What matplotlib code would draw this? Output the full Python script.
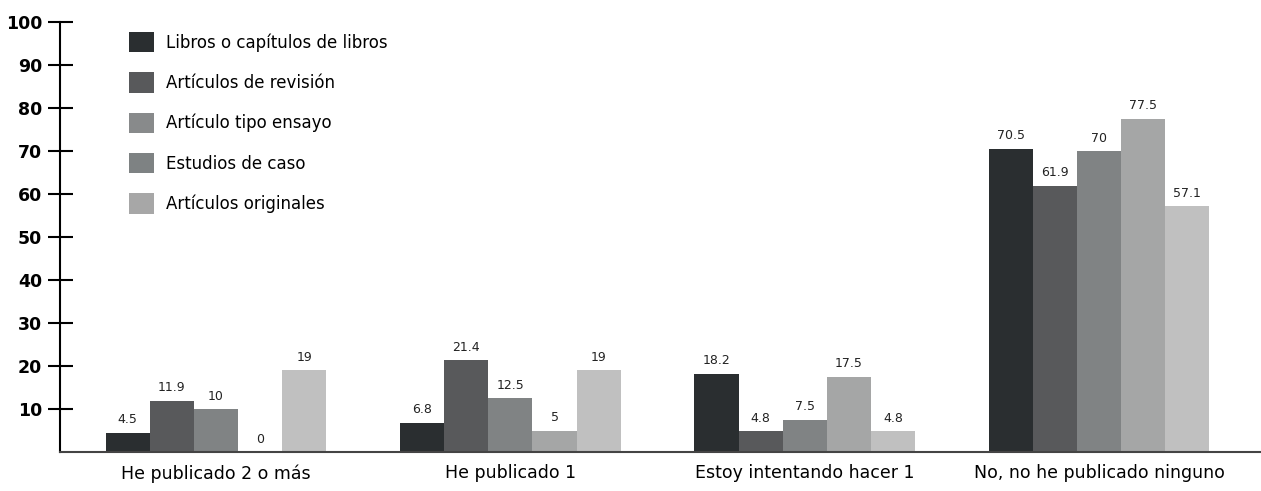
import matplotlib
matplotlib.use("Agg")
from matplotlib import pyplot as plt
from matplotlib.patches import Patch
import numpy as np

categories = ["He publicado 2 o más", "He publicado 1",
              "Estoy intentando hacer 1", "No, no he publicado ninguno"]
series = ["Libros o capítulos de libros", "Artículos de revisión",
          "Artículo tipo ensayo", "Estudios de caso", "Artículos originales"]
libros = [4.5, 6.8, 18.2, 70.5]
revision = [11.9, 21.4, 4.8, 61.9]
ensayo = [10, 12.5, 7.5, 70]
caso = [0, 5, 17.5, 77.5]
originales = [19, 19, 4.8, 57.1]
labels = [["4.5", "6.8", "18.2", "70.5"],
          ["11.9", "21.4", "4.8", "61.9"],
          ["10", "12.5", "7.5", "70"],
          ["0", "5", "17.5", "77.5"],
          ["19", "19", "4.8", "57.1"]]

bar_colors = ["#2a2e30", "#58595b", "#808384", "#a5a6a6", "#c0c0c0"]
legend_colors = ["#2a2e30", "#58595b", "#888a8b", "#7e8283", "#a7a7a7"]

plt.rcParams['font.family'] = ['DejaVu Sans']

fig = plt.figure(figsize=(12.61, 4.91), dpi=100)
ax = fig.add_axes([60 / 1261, 39 / 491, 1 - 60 / 1261, 430 / 491])

x = np.arange(len(categories))
w = 0.15
for i, vals in enumerate([libros, revision, ensayo, caso, originales]):
    pos = x + (i - 2) * w
    ax.bar(pos, vals, w, color=bar_colors[i])
    for p, v, t in zip(pos, vals, labels[i]):
        ax.text(p, v + 1.5, t, ha='center', va='bottom', fontsize=9,
                color='#222222')

ax.set_xlim(-0.53, 3.55)
ax.set_ylim(0, 100)
ax.set_yticks(range(10, 101, 10))
ax.tick_params(axis='y', direction='inout', length=18, width=1.5,
               labelsize=12.5, pad=4)
for lbl in ax.get_yticklabels():
    lbl.set_fontweight('bold')
ax.set_xticks(x)
ax.set_xticklabels(categories, fontsize=12.5)
ax.tick_params(axis='x', length=0, pad=9)
ax.spines['top'].set_visible(False)
ax.spines['right'].set_visible(False)
ax.spines['left'].set_linewidth(1.5)
ax.spines['bottom'].set_linewidth(1.5)
ax.spines['bottom'].set_color('#444444')

handles = [Patch(facecolor=c) for c in legend_colors]
ax.legend(handles, series, loc='upper left', bbox_to_anchor=(0.049, 1.0),
          frameon=False, fontsize=12, handlelength=1.5, handleheight=1.5,
          labelspacing=1.2, handletextpad=0.7, borderaxespad=0.2)

fig.savefig("out.png", dpi=100)
